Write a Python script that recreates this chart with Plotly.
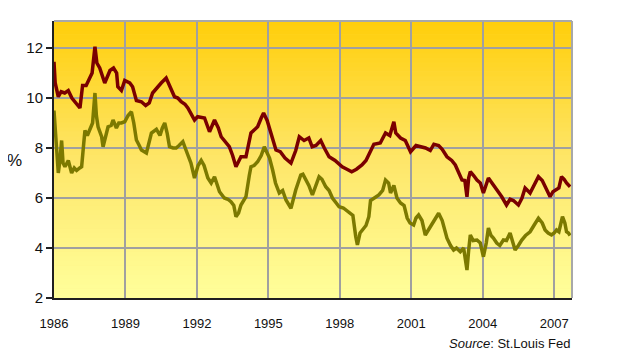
import plotly.graph_objects as go

# ---- data ----
red_years = [1986.00, 1986.05, 1986.18, 1986.30, 1986.45, 1986.60, 1986.75, 1986.90, 1987.09, 1987.20,
             1987.35, 1987.50, 1987.60, 1987.72, 1987.80, 1987.92, 1988.03, 1988.13, 1988.35, 1988.50,
             1988.63, 1988.68, 1988.83, 1988.97, 1989.18, 1989.30, 1989.46, 1989.67, 1989.85, 1990.00,
             1990.14, 1990.30, 1990.50, 1990.71, 1990.85, 1991.06, 1991.20, 1991.34, 1991.50, 1991.62,
             1991.90, 1992.03, 1992.32, 1992.53, 1992.74, 1992.90, 1993.02, 1993.20, 1993.36, 1993.50,
             1993.64, 1993.85, 1994.06, 1994.27, 1994.55, 1994.70, 1994.80, 1994.95, 1995.15, 1995.32,
             1995.50, 1995.70, 1995.95, 1996.15, 1996.30, 1996.50, 1996.70, 1996.84, 1997.00, 1997.20,
             1997.35, 1997.55, 1997.80, 1998.10, 1998.30, 1998.50, 1998.70, 1998.93, 1999.10, 1999.43,
             1999.70, 1999.92, 2000.10, 2000.27, 2000.35, 2000.55, 2000.75, 2000.97, 2001.20, 2001.39,
             2001.60, 2001.80, 2001.95, 2002.15, 2002.30, 2002.50, 2002.70, 2002.85, 2003.00, 2003.13,
             2003.25, 2003.34, 2003.41, 2003.48, 2003.62, 2003.76, 2003.90, 2004.03, 2004.24, 2004.40,
             2004.59, 2004.80, 2005.00, 2005.15, 2005.29, 2005.50, 2005.65, 2005.78, 2005.99, 2006.15,
             2006.34, 2006.50, 2006.62, 2006.83, 2006.95, 2007.10, 2007.20, 2007.31, 2007.42, 2007.52,
             2007.67]
red_values = [11.45, 10.60, 10.05, 10.25, 10.20, 10.30, 10.00, 9.80, 9.60, 10.50,
              10.50, 10.80, 11.00, 12.05, 11.40, 11.20, 10.85, 10.60, 11.10, 11.20,
              11.00, 10.45, 10.30, 10.70, 10.60, 10.45, 9.90, 9.85, 9.70, 9.80,
              10.20, 10.40, 10.60, 10.80, 10.50, 10.05, 10.00, 9.85, 9.75, 9.60,
              9.12, 9.25, 9.20, 8.65, 9.12, 8.80, 8.45, 8.25, 8.05, 7.70,
              7.25, 7.65, 7.65, 8.60, 8.85, 9.20, 9.40, 9.10, 8.50, 7.92,
              7.85, 7.60, 7.40, 7.90, 8.45, 8.30, 8.40, 8.05, 8.10, 8.30,
              8.00, 7.65, 7.50, 7.25, 7.15, 7.05, 7.15, 7.32, 7.50, 8.15,
              8.20, 8.60, 8.50, 9.05, 8.60, 8.40, 8.30, 7.85, 8.10, 8.05,
              8.00, 7.90, 8.15, 8.10, 7.95, 7.65, 7.50, 7.32, 7.00, 6.72,
              6.70, 6.05, 6.80, 7.05, 6.90, 6.72, 6.60, 6.20, 6.80, 6.60,
              6.32, 6.05, 5.72, 5.95, 5.90, 5.72, 6.00, 6.40, 6.20, 6.50,
              6.85, 6.70, 6.45, 6.05, 6.25, 6.32, 6.40, 6.85, 6.75, 6.60,
              6.45]

olive_years = [1986.00, 1986.10, 1986.18, 1986.25, 1986.32, 1986.38, 1986.46, 1986.60, 1986.74, 1986.85,
               1986.95, 1987.08, 1987.16, 1987.25, 1987.30, 1987.40, 1987.50, 1987.62, 1987.72, 1987.78,
               1987.85, 1988.00, 1988.06, 1988.17, 1988.27, 1988.40, 1988.48, 1988.62, 1988.72, 1988.83,
               1988.97, 1989.11, 1989.25, 1989.35, 1989.46, 1989.58, 1989.67, 1989.88, 1990.09, 1990.30,
               1990.45, 1990.55, 1990.65, 1990.75, 1990.85, 1991.00, 1991.13, 1991.25, 1991.41, 1991.62,
               1991.75, 1991.90, 1992.05, 1992.18, 1992.30, 1992.46, 1992.60, 1992.74, 1992.95, 1993.15,
               1993.30, 1993.43, 1993.55, 1993.64, 1993.75, 1993.85, 1994.06, 1994.20, 1994.27, 1994.40,
               1994.55, 1994.70, 1994.83, 1994.95, 1995.05, 1995.18, 1995.30, 1995.46, 1995.60, 1995.74,
               1995.95, 1996.15, 1996.36, 1996.45, 1996.57, 1996.70, 1996.85, 1997.00, 1997.13, 1997.25,
               1997.41, 1997.55, 1997.69, 1997.85, 1997.97, 1998.15, 1998.38, 1998.55, 1998.67, 1998.74,
               1998.85, 1998.94, 1999.10, 1999.22, 1999.29, 1999.45, 1999.64, 1999.80, 1999.92, 2000.05,
               2000.13, 2000.27, 2000.40, 2000.55, 2000.70, 2000.83, 2000.95, 2001.10, 2001.20, 2001.31,
               2001.45, 2001.59, 2001.70, 2001.80, 2001.95, 2002.15, 2002.30, 2002.50, 2002.65, 2002.78,
               2002.90, 2003.06, 2003.20, 2003.27, 2003.34, 2003.41, 2003.48, 2003.60, 2003.76, 2003.90,
               2004.03, 2004.15, 2004.24, 2004.35, 2004.45, 2004.59, 2004.72, 2004.87, 2005.00, 2005.15,
               2005.25, 2005.36, 2005.50, 2005.64, 2005.80, 2005.99, 2006.15, 2006.34, 2006.50, 2006.62,
               2006.75, 2006.89, 2007.00, 2007.10, 2007.20, 2007.35, 2007.45, 2007.52, 2007.60, 2007.67]
olive_values = [9.50, 8.20, 7.00, 7.50, 8.30, 7.40, 7.25, 7.50, 7.00, 7.20,
                7.10, 7.20, 7.25, 8.20, 8.70, 8.50, 8.70, 9.00, 10.20, 9.30,
                8.85, 8.45, 8.05, 8.50, 8.85, 8.90, 9.12, 8.80, 9.00, 9.00,
                9.05, 9.30, 9.45, 9.00, 8.32, 8.10, 7.92, 7.80, 8.60, 8.75,
                8.50, 8.80, 9.00, 8.60, 8.05, 8.00, 8.00, 8.10, 8.25, 7.72,
                7.40, 6.80, 7.30, 7.50, 7.30, 6.80, 6.60, 6.85, 6.25, 6.00,
                5.95, 5.85, 5.70, 5.25, 5.40, 5.72, 6.05, 6.90, 7.25, 7.30,
                7.45, 7.70, 8.05, 7.80, 7.60, 7.12, 6.60, 6.20, 6.30, 5.92,
                5.59, 6.32, 6.92, 6.95, 6.72, 6.50, 6.12, 6.50, 6.85, 6.75,
                6.45, 6.30, 6.00, 5.80, 5.65, 5.60, 5.45, 5.30, 4.45, 4.12,
                4.60, 4.72, 4.90, 5.25, 5.90, 6.00, 6.12, 6.30, 6.72, 6.60,
                6.20, 6.50, 6.00, 5.80, 5.70, 5.20, 5.00, 4.92, 5.20, 5.32,
                5.10, 4.52, 4.70, 4.85, 5.10, 5.39, 5.10, 4.39, 4.10, 3.92,
                4.00, 3.85, 4.00, 3.65, 3.12, 3.90, 4.52, 4.30, 4.32, 4.20,
                3.65, 4.20, 4.80, 4.50, 4.40, 4.20, 4.10, 4.32, 4.30, 4.60,
                4.30, 3.92, 4.10, 4.32, 4.50, 4.65, 4.90, 5.19, 5.00, 4.72,
                4.60, 4.52, 4.60, 4.72, 4.65, 5.25, 5.00, 4.65, 4.60, 4.50]

tick_years = [1986, 1989, 1992, 1995, 1998, 2001, 2004, 2007]
tick_labels = ["1986", "1989", "1992", "1995", "1998", "2001", "2004", "2007"]
y_ticks = [2, 4, 6, 8, 10, 12]

# ---- figure ----
fig = go.Figure()
fig.add_trace(go.Scatter(x=red_years, y=red_values, mode="lines",
                         line=dict(color="#7a0000", width=3.5), showlegend=False))
fig.add_trace(go.Scatter(x=olive_years, y=olive_values, mode="lines",
                         line=dict(color="#7c7900", width=3.5), showlegend=False))

# vertical gradient background (gold at top -> pale yellow at bottom)
stops = [(0.0, (255, 255, 155)), (0.5, (254, 230, 105)), (1.0, (255, 206, 10))]

def col(t):
    for (t0, c0), (t1, c1) in zip(stops[:-1], stops[1:]):
        if t0 <= t <= t1:
            f = (t - t0) / (t1 - t0)
            return "rgb(%d,%d,%d)" % tuple(round(a + (b - a) * f) for a, b in zip(c0, c1))
    return "rgb(255,206,10)"

n = 60
shapes = []
for i in range(n):
    shapes.append(dict(type="rect", xref="x domain", yref="y domain",
                       x0=0, x1=1, y0=i / n, y1=(i + 1) / n + 0.002,
                       fillcolor=col((i + 0.5) / n), line=dict(width=0), layer="below"))
# gray top and right borders
shapes.append(dict(type="line", xref="x domain", yref="y domain", x0=0, x1=1, y0=1, y1=1,
                   line=dict(color="#a8a8a8", width=2), layer="above"))
shapes.append(dict(type="line", xref="x domain", yref="y domain", x0=1, x1=1, y0=0, y1=1,
                   line=dict(color="#a8a8a8", width=2), layer="above"))

# the page body adds an 8px offset, so the figure is 612x352 with the plot
# area at x 54..572, y 21..298 of the window
fig.update_layout(
    width=612, height=352,
    margin=dict(l=46, r=48, t=13, b=62, autoexpand=False),
    paper_bgcolor="white", plot_bgcolor="#ffe680",
    font=dict(family="Liberation Sans, Arial, sans-serif", color="#111111"),
    shapes=shapes,
    xaxis=dict(range=[1986, 2007.75], tickvals=tick_years, ticktext=tick_labels,
               showgrid=True, gridcolor="#a0a0a0", gridwidth=1.5, ticks="",
               ticklabelstandoff=12, tickfont=dict(size=13),
               showline=True, linecolor="#202020", linewidth=2, zeroline=False),
    yaxis=dict(range=[2, 13.08], tickvals=y_ticks, showgrid=True, gridcolor="#a0a0a0",
               gridwidth=1.5, ticks="outside", ticklen=6, tickcolor="#202020", tickwidth=1.5,
               tickfont=dict(size=15), showline=True, linecolor="#202020", linewidth=2,
               zeroline=False),
    annotations=[
        dict(text="%", xref="paper", yref="paper", x=-0.077, y=0.498, showarrow=False,
             font=dict(size=17), xanchor="center", yanchor="middle"),
        dict(text="<i>Source</i>: St.Louis Fed", xref="paper", yref="paper", x=1.0, y=-0.166,
             showarrow=False, font=dict(size=13), xanchor="right", yanchor="middle"),
    ],
)

fig.write_html("out.html")
